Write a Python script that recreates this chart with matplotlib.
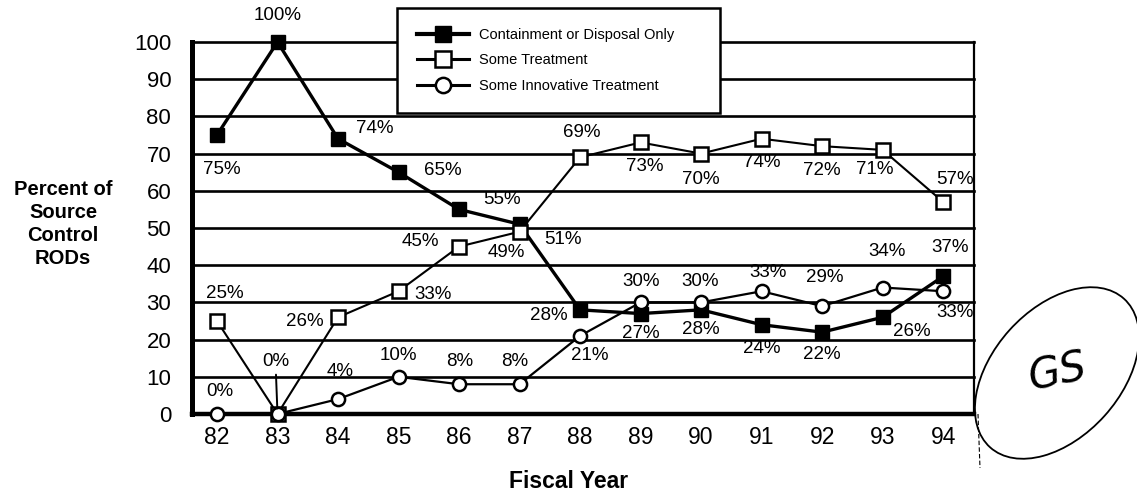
import matplotlib
matplotlib.use('Agg')
import matplotlib.pyplot as plt
from matplotlib.lines import Line2D
from matplotlib.patches import Ellipse
from matplotlib.transforms import IdentityTransform

plt.rcParams['font.family'] = ['Liberation Sans', 'DejaVu Sans']

# ---------------- data ----------------
years = [82, 83, 84, 85, 86, 87, 88, 89, 90, 91, 92, 93, 94]
year_labels = ['82', '83', '84', '85', '86', '87', '88', '89', '90', '91', '92', '93', '94']
containment = [75, 100, 74, 65, 55, 51, 28, 27, 28, 24, 22, 26, 37]
some_treatment = [25, 0, 26, 33, 45, 49, 69, 73, 70, 74, 72, 71, 57]
innovative = [0, 0, 4, 10, 8, 8, 21, 30, 30, 33, 29, 34, 33]
y_ticks = [0, 10, 20, 30, 40, 50, 60, 70, 80, 90, 100]
series_names = ['Containment or Disposal Only', 'Some Treatment', 'Some Innovative Treatment']

# ------------- label placement (pixel offsets, x right / y up) -------------
off_containment = [(5, -34), (0, 27), (37, 10), (44, 2), (43, 10), (43, -15), (-31, -6),
                   (0, -20), (0, -20), (0, -24), (0, -22), (29, -14), (7, 29)]
off_treatment = [(8, 27), (-2, 52), (-33, -4), (35, -3), (-39, 5), (-13, -21), (2, 25),
                 (4, -24), (0, -26), (0, -24), (0, -24), (-8, -20), (12, 22)]
off_innov = [(3, 22), None, (2, 28), (0, 21), (1, 23), (-5, 23), (10, -20),
             (1, 21), (-1, 21), (6, 19), (3, 29), (4, 36), (12, -21)]

W, H = 1137, 495
fig = plt.figure(figsize=(W / 100, H / 100), dpi=100)
fig.patch.set_facecolor('white')
ax = fig.add_axes([192 / W, 1 - 414 / H, (974 - 192) / W, (414 - 42) / H])
ax.set_xlim(81.587, 94.51)
ax.set_ylim(0, 100)

for v in y_ticks[1:]:
    ax.axhline(v, color='black', lw=1.9, zorder=1, clip_on=False)

ax.spines['top'].set_visible(False)
ax.spines['left'].set_linewidth(3.6)
ax.spines['bottom'].set_linewidth(3.2)
ax.spines['right'].set_linewidth(1.6)

ax.set_yticks(y_ticks)
ax.set_yticklabels([str(v) for v in y_ticks], fontsize=16)
ax.set_xticks(years)
ax.set_xticklabels(year_labels, fontsize=16.5)
ax.tick_params(axis='y', length=0, pad=15)
ax.tick_params(axis='x', length=0, pad=9)

ax.plot(years, containment, color='black', lw=2.4, marker='s', ms=9.5,
        mfc='black', mec='black', zorder=4, clip_on=False)
ax.plot(years, some_treatment, color='black', lw=1.5, marker='s', ms=10,
        mfc='white', mec='black', mew=1.8, zorder=5, clip_on=False)
ax.plot(years, innovative, color='black', lw=1.6, marker='o', ms=9.5,
        mfc='white', mec='black', mew=1.8, zorder=6, clip_on=False)

def put_labels(vals, offs, lead=None):
    for i, (x, v) in enumerate(zip(years, vals)):
        o = offs[i]
        if o is None:
            continue
        kw = {}
        if lead is not None and i == lead:
            kw['arrowprops'] = dict(arrowstyle='-', lw=1.4, color='black', shrinkA=1, shrinkB=4)
        ax.annotate(f'{v}%', xy=(x, v), xytext=o, textcoords='offset pixels',
                    ha='center', va='center', fontsize=13.5, zorder=7,
                    annotation_clip=False, **kw)

put_labels(containment, off_containment)
put_labels(some_treatment, off_treatment, lead=1)
put_labels(innovative, off_innov)

# legend
handles = [
    Line2D([], [], color='black', lw=3.0, marker='s', ms=11, mfc='black', mec='black'),
    Line2D([], [], color='black', lw=2.2, marker='s', ms=11, mfc='white', mec='black', mew=1.8),
    Line2D([], [], color='black', lw=2.2, marker='o', ms=11, mfc='white', mec='black', mew=1.8),
]
leg = ax.legend(handles, series_names, loc='upper left',
                bbox_to_anchor=(397 / W, 1 - 8 / H - 0.3, (720 - 397) / W, 0.3),
                bbox_transform=fig.transFigure, mode='expand', borderaxespad=0,
                fontsize=10.5, frameon=True, fancybox=False, framealpha=1,
                edgecolor='black', borderpad=1.35, labelspacing=0.8,
                handlelength=3.6, handletextpad=0.7)
leg.get_frame().set_linewidth(1.8)
leg.set_zorder(10)

# axis titles
fig.text(63 / W, 1 - 224 / H, 'Percent of\nSource\nControl\nRODs', ha='center', va='center',
         fontsize=14.5, fontweight='bold', linespacing=1.25, multialignment='center')
fig.text(569 / W, 1 - 482 / H, 'Fiscal Year', ha='center', va='center',
         fontsize=16.5, fontweight='bold')

# handwritten mark on the scan
fig.add_artist(Ellipse((1057, H - 373), 200, 128, angle=48,
                       transform=IdentityTransform(), fill=False, lw=1.3, color='black'))
fig.text(1057 / W, 1 - 373 / H, 'GS', ha='center', va='center', fontsize=30,
         fontstyle='italic', rotation=12, family=['DejaVu Sans'], fontweight='light')
fig.add_artist(Line2D([978 / W, 980 / W], [1 - 414 / H, 1 - 468 / H],
                      transform=fig.transFigure, color='black', lw=0.8, ls=(0, (4, 2))))

fig.savefig('out.png', dpi=100, facecolor='white')
